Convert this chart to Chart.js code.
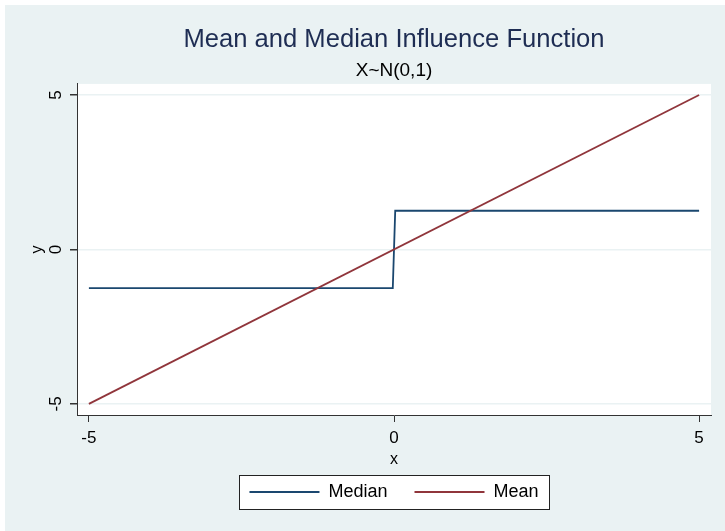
<!DOCTYPE html>
<html>
<head>
<meta charset="utf-8">
<script src="https://cdn.jsdelivr.net/npm/chart.js@4/dist/chart.umd.min.js"></script>
<style>
  html, body { margin: 0; padding: 0; background: #ffffff; }
  canvas { display: block; }
</style>
</head>
<body>
<canvas id="chart" width="725" height="531"></canvas>
<script>
// data
const xTicks = [-5, 0, 5];
const yTicks = [-5, 0, 5];
const medianX = [-5, -0.02, 0.02, 5];
const medianY = [-1.2533, -1.2533, 1.2533, 1.2533];
const meanX = [-5, 5];
const meanY = [-5, 5];

const FONT = "Arial, 'Liberation Sans', Helvetica, sans-serif";
const BG = "#EAF2F3";

const toPoints = (xs, ys) => xs.map((x, i) => ({ x: x, y: ys[i] }));

// stata-ish background, plot region and legend frame
const backdrop = {
  id: "backdrop",
  beforeDraw(chart) {
    const { ctx, chartArea } = chart;
    ctx.save();
    ctx.fillStyle = "#ffffff";
    ctx.fillRect(0, 0, chart.width, chart.height);
    ctx.fillStyle = BG;
    ctx.fillRect(5, 5, chart.width - 5, chart.height - 5);
    ctx.fillStyle = "#ffffff";
    ctx.fillRect(chartArea.left, chartArea.top, chartArea.right - chartArea.left, chartArea.bottom - chartArea.top);

    const hb = chart.legend.legendHitBoxes;
    if (hb && hb.length) {
      const last = hb[hb.length - 1];
      const left = hb[0].left - 10;
      const right = last.left + last.width + 11;
      const mid = hb[0].top + 9;
      ctx.fillStyle = "#ffffff";
      ctx.fillRect(left, mid - 17, right - left, 34);
      ctx.strokeStyle = "#222222";
      ctx.lineWidth = 1;
      ctx.strokeRect(Math.round(left) + 0.5, Math.round(mid - 17) + 0.5, Math.round(right - left), 34);
    }
    ctx.restore();
  },
};

const ctx = document.getElementById("chart").getContext("2d");
new Chart(ctx, {
  type: "scatter",
  data: {
    datasets: [
      {
        label: "Median",
        data: toPoints(medianX, medianY),
        showLine: true,
        borderColor: "#1A476F",
        backgroundColor: "#1A476F",
        borderWidth: 1.8,
        pointRadius: 0,
        order: 1,
      },
      {
        label: "Mean",
        data: toPoints(meanX, meanY),
        showLine: true,
        borderColor: "#90353B",
        backgroundColor: "#90353B",
        borderWidth: 1.8,
        pointRadius: 0,
        order: 0,
      },
    ],
  },
  options: {
    responsive: false,
    animation: false,
    events: [],
    layout: { padding: { left: 5, right: 14, top: 0, bottom: 20 } },
    scales: {
      x: {
        type: "linear",
        min: -5.195,
        max: 5.195,
        afterBuildTicks: (scale) => { scale.ticks = xTicks.map((v) => ({ value: v })); },
        afterFit: (scale) => { scale.height = 41; },
        ticks: {
          color: "#000000",
          font: { family: FONT, size: 17 },
          padding: 6,
          maxRotation: 0,
          callback: (v) => String(v),
        },
        grid: {
          drawOnChartArea: false,
          drawTicks: true,
          tickLength: 7,
          tickColor: "#333333",
        },
        border: { display: true, color: "#333333", width: 1 },
        title: {
          display: true,
          text: "x",
          color: "#000000",
          font: { family: FONT, size: 16 },
          padding: { top: 0, bottom: -13 },
        },
      },
      y: {
        type: "linear",
        min: -5.36,
        max: 5.36,
        afterBuildTicks: (scale) => { scale.ticks = yTicks.map((v) => ({ value: v })); },
        afterFit: (scale) => { scale.width = 72; },
        ticks: {
          color: "#000000",
          font: { family: FONT, size: 17 },
          padding: 6.5,
          minRotation: 90,
          maxRotation: 90,
          crossAlign: "center",
          callback: (v) => String(v),
        },
        grid: {
          color: BG,
          lineWidth: 1.5,
          drawTicks: true,
          tickLength: 7,
          tickColor: "#333333",
        },
        border: { display: true, color: "#333333", width: 1 },
        title: {
          display: true,
          text: "y",
          color: "#000000",
          font: { family: FONT, size: 16 },
          padding: { top: 23.4, bottom: 0 },
        },
      },
    },
    plugins: {
      title: {
        display: true,
        fullSize: false,
        text: "Mean and Median Influence Function",
        color: "#1E2D53",
        font: { family: FONT, size: 25.6, weight: "normal" },
        padding: { top: 24.6, bottom: 0 },
      },
      subtitle: {
        display: true,
        fullSize: false,
        text: "X~N(0,1)",
        color: "#000000",
        font: { family: FONT, size: 19, weight: "normal" },
        padding: { top: 4, bottom: 1.8 },
      },
      legend: {
        display: true,
        position: "bottom",
        fullSize: false,
        labels: {
          usePointStyle: true,
          pointStyle: "line",
          pointStyleWidth: 70,
          padding: 27,
          color: "#000000",
          font: { family: FONT, size: 18 },
          sort: (a, b) => a.datasetIndex - b.datasetIndex,
        },
      },
      tooltip: { enabled: false },
    },
  },
  plugins: [backdrop],
});
</script>
</body>
</html>
